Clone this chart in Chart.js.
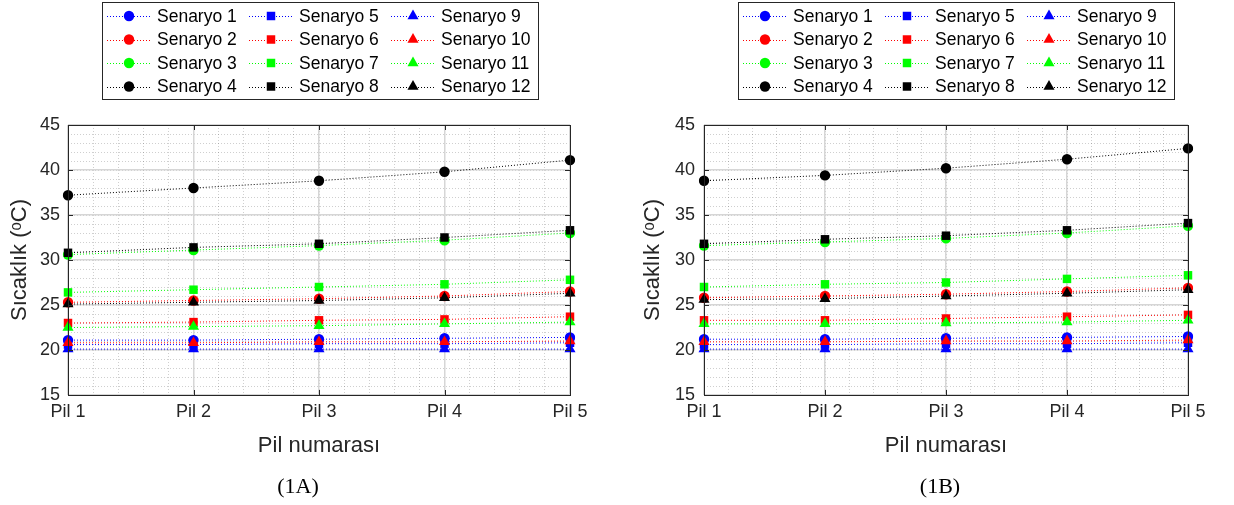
<!DOCTYPE html>
<html><head><meta charset="utf-8">
<script src="https://cdn.jsdelivr.net/npm/chart.js@4/dist/chart.umd.min.js"></script>
<style>
html,body{margin:0;padding:0;background:#fff;width:1234px;height:505px;overflow:hidden}
canvas{position:absolute;top:0}
#cA{left:0} #cB{left:617px}
</style></head>
<body>
<canvas id="cA" width="617" height="505"></canvas>
<canvas id="cB" width="617" height="505"></canvas>
<script>
const categories = ['Pil 1','Pil 2','Pil 3','Pil 4','Pil 5'];
const seriesNames = ['Senaryo 1','Senaryo 2','Senaryo 3','Senaryo 4','Senaryo 5','Senaryo 6','Senaryo 7','Senaryo 8','Senaryo 9','Senaryo 10','Senaryo 11','Senaryo 12'];
const yTickValues = [15,20,25,30,35,40,45];
const xTitle = 'Pil numarası';
const yTitle = 'Sıcaklık (ᵒC)';
const panelLabels = ['(1A)','(1B)'];

// Panel 1A
const A_s1  = [21.1,21.1,21.2,21.3,21.4];
const A_s2  = [25.3,25.5,25.7,26.0,26.5];
const A_s3  = [30.6,31.1,31.6,32.2,33.0];
const A_s4  = [37.2,38.0,38.8,39.8,41.1];
const A_s5  = [20.6,20.6,20.7,20.7,20.8];
const A_s6  = [23.0,23.1,23.3,23.4,23.7];
const A_s7  = [26.4,26.7,27.0,27.3,27.8];
const A_s8  = [30.8,31.4,31.8,32.5,33.3];
const A_s9  = [20.1,20.1,20.1,20.1,20.1];
const A_s10 = [20.8,20.8,20.9,20.9,21.0];
const A_s11 = [22.5,22.6,22.7,22.9,23.1];
const A_s12 = [25.1,25.3,25.5,25.8,26.3];

// Panel 1B
const B_s1  = [21.2,21.2,21.3,21.4,21.5];
const B_s2  = [25.8,26.0,26.2,26.5,26.9];
const B_s3  = [31.6,32.0,32.4,33.0,33.8];
const B_s4  = [38.8,39.4,40.2,41.2,42.4];
const B_s5  = [20.6,20.6,20.7,20.7,20.8];
const B_s6  = [23.3,23.3,23.5,23.7,23.9];
const B_s7  = [27.0,27.3,27.5,27.9,28.3];
const B_s8  = [31.8,32.3,32.7,33.3,34.1];
const B_s9  = [20.1,20.1,20.1,20.1,20.1];
const B_s10 = [20.9,20.9,21.0,21.0,21.1];
const B_s11 = [22.9,22.9,23.0,23.1,23.3];
const B_s12 = [25.6,25.7,26.0,26.3,26.7];

const seriesA = [A_s1,A_s2,A_s3,A_s4,A_s5,A_s6,A_s7,A_s8,A_s9,A_s10,A_s11,A_s12];
const seriesB = [B_s1,B_s2,B_s3,B_s4,B_s5,B_s6,B_s7,B_s8,B_s9,B_s10,B_s11,B_s12];

const palette = ['#0000ff','#ff0000','#00ff00','#000000'];
const shapes = ['circle','rect','triangle'];
const radii = {circle:5.2, rect:6, triangle:6.4};
const SANS = '"Liberation Sans", Arial, Helvetica, sans-serif';
const SERIF = '"Liberation Serif", "Times New Roman", serif';
const AXIS = '#262626';

function makeDatasets(series){
  return series.map((vals,i)=>{
    const c = palette[i%4], s = shapes[Math.floor(i/4)];
    return {
      label: seriesNames[i], data: vals, xAxisID: 'x', yAxisID: 'y',
      borderColor: c, backgroundColor: c, borderWidth: 1, borderDash: [1,2],
      pointStyle: s, pointRadius: radii[s], pointBorderWidth: 0,
      pointBackgroundColor: c, pointBorderColor: c,
      order: 12 - i, tension: 0, fill: false
    };
  });
}

function drawMarker(ctx, style, r, x, y, color){
  ctx.save(); ctx.fillStyle = color; ctx.beginPath();
  if(style==='circle'){ ctx.arc(x,y,r,0,Math.PI*2); }
  else if(style==='rect'){ const s=Math.SQRT1_2*r; ctx.rect(x-s,y-s,2*s,2*s); }
  else { const h=r*Math.cos(Math.PI/6);
    ctx.moveTo(x, y - r); ctx.lineTo(x + h, y + r/2); ctx.lineTo(x - h, y + r/2); ctx.closePath(); }
  ctx.fill(); ctx.restore();
}

function decorPlugin(cfg){
  return {
    id: 'decor'+cfg.label,
    afterDraw(chart){
      const ctx = chart.ctx, a = chart.chartArea;
      const xs = chart.scales.x, ys = chart.scales.y;
      ctx.save();
      ctx.strokeStyle = AXIS; ctx.lineWidth = 1;
      ctx.beginPath();
      yTickValues.forEach(v=>{
        const py = Math.round(ys.getPixelForValue(v))+0.5;
        ctx.moveTo(a.left, py); ctx.lineTo(a.left+5, py);
        ctx.moveTo(a.right, py); ctx.lineTo(a.right-5, py);
      });
      categories.forEach((c,i)=>{
        const px = Math.round(xs.getPixelForValue(i))+0.5;
        ctx.moveTo(px, a.bottom); ctx.lineTo(px, a.bottom-5);
        ctx.moveTo(px, a.top); ctx.lineTo(px, a.top+5);
      });
      ctx.stroke();
      ctx.strokeRect(Math.round(a.left)+0.5, Math.round(a.top)+0.5, Math.round(a.right-a.left), Math.round(a.bottom-a.top));
      ctx.fillStyle = '#000'; ctx.font = '22px '+SERIF;
      ctx.textAlign = 'center'; ctx.textBaseline = 'middle';
      ctx.fillText(cfg.label, cfg.labelX, 487);
      const L = cfg.legendX, T = 2, W = 436, H = 97;
      ctx.fillStyle = '#fff'; ctx.fillRect(L, T, W, H);
      ctx.strokeStyle = AXIS; ctx.lineWidth = 1;
      ctx.strokeRect(L+0.5, T+0.5, W, H);
      ctx.font = '17.5px '+SANS; ctx.textAlign = 'left'; ctx.textBaseline = 'middle';
      chart.data.datasets.forEach((ds,i)=>{
        const col = Math.floor(i/4), row = i%4;
        const x0 = L + 5 + col*142, yy = 16 + row*23.5;
        ctx.save(); ctx.strokeStyle = ds.borderColor; ctx.setLineDash([1,2]); ctx.lineWidth = 1;
        ctx.beginPath(); ctx.moveTo(x0, Math.round(yy)+0.5); ctx.lineTo(x0+44, Math.round(yy)+0.5); ctx.stroke(); ctx.restore();
        drawMarker(ctx, ds.pointStyle, ds.pointRadius, x0+22, yy, ds.borderColor);
        ctx.fillStyle = '#000';
        ctx.fillText(ds.label, x0 + 50, yy+1);
      });
      ctx.restore();
    }
  };
}

function build(id, series, cfg){
  return new Chart(document.getElementById(id), {
    type: 'line',
    data: { labels: categories, datasets: makeDatasets(series) },
    options: {
      responsive: false, animation: false, devicePixelRatio: 1,
      layout: { padding: { top: 125, right: cfg.rightPad, left: 0, bottom: 0 } },
      plugins: { legend: { display: false }, tooltip: { enabled: false } },
      scales: {
        xMinor: { type: 'linear', position: 'bottom', min: 0, max: 4,
          ticks: { display: false, stepSize: 0.2 },
          grid: { color: 'rgba(38,38,38,0.22)', lineWidth: 1, drawTicks: false },
          border: { display: false, dash: [1,2] },
          afterFit(s){ s.height = 0; } },
        yMinor: { type: 'linear', position: 'left', min: 15, max: 45,
          ticks: { display: false, stepSize: 1 },
          grid: { color: 'rgba(38,38,38,0.22)', lineWidth: 1, drawTicks: false },
          border: { display: false, dash: [1,2] },
          afterFit(s){ s.width = 0; } },
        x: { type: 'category', offset: false,
          grid: { color: '#d6d6d6', lineWidth: 1.5, drawTicks: false },
          border: { display: false },
          ticks: { color: AXIS, font: { family: SANS, size: 18 }, padding: 6, maxRotation: 0, autoSkip: false },
          title: { display: true, text: xTitle, color: AXIS, font: { family: SANS, size: 22 }, padding: { top: 4, bottom: 46 } },
          afterFit(s){ s.height = 110; } },
        y: { type: 'linear', min: 15, max: 45,
          afterBuildTicks(s){ s.ticks = yTickValues.map(v=>({value:v})); },
          grid: { color: '#d6d6d6', lineWidth: 1.5, drawTicks: false },
          border: { display: false },
          ticks: { color: AXIS, font: { family: SANS, size: 18 }, padding: cfg.yTickPad },
          title: { display: true, text: yTitle, color: AXIS, font: { family: SANS, size: 22 }, padding: { top: cfg.yTitlePad, bottom: 4 } },
          afterFit(s){ s.width = cfg.yWidth; } }
      }
    },
    plugins: [decorPlugin(cfg)]
  });
}

build('cA', seriesA, { label: panelLabels[0], labelX: 298, legendX: 102, rightPad: 47, yWidth: 68, yTickPad: 8, yTitlePad: 7 });
build('cB', seriesB, { label: panelLabels[1], labelX: 323, legendX: 121, rightPad: 46, yWidth: 87, yTickPad: 9, yTitlePad: 23 });
</script>
</body></html>
